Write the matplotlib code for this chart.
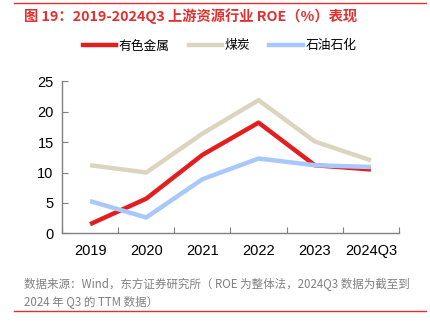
import matplotlib
matplotlib.use("Agg")
import matplotlib.pyplot as plt
from matplotlib.lines import Line2D

plt.rcParams['font.family'] = ['Liberation Sans', 'Noto Sans CJK SC', 'DejaVu Sans']

categories = ['2019', '2020', '2021', '2022', '2023', '2024Q3']
nonferrous = [1.5, 5.7, 12.9, 18.2, 11.2, 10.5]
coal = [11.2, 10.0, 16.4, 21.9, 15.1, 12.0]
petro = [5.3, 2.6, 8.9, 12.3, 11.2, 10.9]
series_names = ['有色金属', '煤炭', '石油石化']
yticks = [0, 5, 10, 15, 20, 25]

W, H = 431, 333
fig = plt.figure(figsize=(W/100, H/100), dpi=100)
ax = fig.add_axes([62/W, 1-233.3/H, (399-62)/W, 152/H])

x = list(range(len(categories)))
colors = ['#e41e1e', '#ddd4bf', '#a8c8fb']
ax.plot(x, coal, color=colors[1], lw=3.2, solid_capstyle='butt', zorder=2)
ax.plot(x, petro, color=colors[2], lw=3.2, solid_capstyle='butt', zorder=3)
ax.plot(x, nonferrous, color=colors[0], lw=3.2, solid_capstyle='butt', zorder=2.5)

ax.set_xlim(-0.5, len(categories)-0.5)
ax.set_ylim(0, 25)
ax.set_yticks(yticks)
ax.set_yticklabels([str(v) for v in yticks], fontsize=10.5)
ax.set_xticks([i-0.5 for i in range(len(categories)+1)])
ax.set_xticklabels([])
ax.set_xticks(x, minor=True)
ax.set_xticklabels(categories, minor=True, fontsize=10.5)
ax.tick_params(axis='x', which='minor', length=0, pad=8)
ax.tick_params(axis='x', which='major', length=4, color='#808080', direction='in')
ax.tick_params(axis='y', length=4, color='#808080', direction='in', pad=6)
for s in ['top', 'right']:
    ax.spines[s].set_visible(False)
for s in ['left', 'bottom']:
    ax.spines[s].set_color('#808080')
    ax.spines[s].set_linewidth(1)

handles = [Line2D([], [], color=c, lw=3.2) for c in colors]
fig.legend(handles, series_names, loc='center left', bbox_to_anchor=(83/W, 1-46/H),
           ncol=3, frameon=False, handlelength=2.6, handletextpad=0.2,
           columnspacing=1.5, borderpad=0, borderaxespad=0,
           prop={'family': ['Noto Sans CJK SC'], 'size': 9.2})

# Decorative rules
fig.add_artist(Line2D([14/W, 426/W], [1-3/H, 1-3/H], color='#e03030', lw=1))
fig.add_artist(Line2D([14/W, 426/W], [1-310.5/H, 1-310.5/H], color='#e03030', lw=1))

fig.text(24/W, 1-16/H, '图 19：2019-2024Q3 上游资源行业 ROE（%）表现', color='#e03030',
         fontsize=10.3, fontweight='bold', va='center', ha='left',
         family=['Noto Sans CJK SC', 'DejaVu Sans'])
fig.text(24/W, 1-284/H, '数据来源：Wind，东方证券研究所（ ROE 为整体法，2024Q3 数据为截至到',
         color='#808080', fontsize=8.3, va='center', ha='left',
         family=['Noto Sans CJK SC', 'DejaVu Sans'])
fig.text(24/W, 1-302/H, '2024 年 Q3 的 TTM 数据）',
         color='#808080', fontsize=8.3, va='center', ha='left',
         family=['Noto Sans CJK SC', 'DejaVu Sans'])

fig.savefig('out.png', dpi=100)
